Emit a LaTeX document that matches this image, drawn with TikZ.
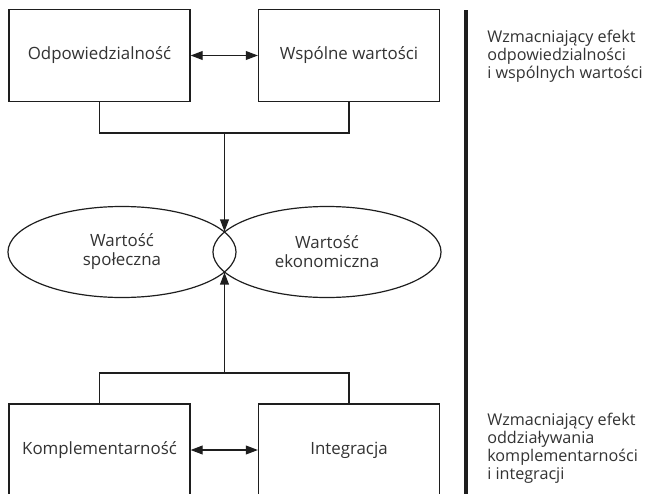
\documentclass[tikz,border=0pt]{standalone}
\usepackage{fontspec}
\setmainfont{Open Sans}
\usepackage{tikz}
\usepackage{xcolor}
\usetikzlibrary{arrows.meta,shapes.geometric}
\definecolor{linegray}{HTML}{1E1E1E}
\definecolor{textgray}{HTML}{333333}
\tikzset{
  box/.style={draw=linegray,line width=0.85pt,minimum width=4.525cm,minimum height=2.3cm,inner sep=0pt,text=textgray,font=\fontsize{12}{13.5}\selectfont},
  oval/.style={ellipse,draw=linegray,line width=0.85pt,minimum width=5.7cm,minimum height=2.275cm,inner sep=0pt,align=center,text=textgray,font=\fontsize{12}{13.5}\selectfont},
  note/.style={anchor=north west,align=left,inner sep=0pt,text=textgray,font=\fontsize{11.5}{12.8}\selectfont},
  tip/.style={-{Triangle[length=0.3cm,width=0.22cm]}},
  dtip/.style={{Triangle[length=0.3cm,width=0.22cm]}-{Triangle[length=0.3cm,width=0.22cm]}}
}

\begin{document}
\begin{tikzpicture}[x=0.025cm,y=-0.025cm]
\clip (0,0) rectangle (653,494);
\fill[white] (0,0) rectangle (653,494);
\node[box] (odp) at (99.5,55.5) {Odpowiedzialność};
\node[box] (wsp) at (349,55.5) {Wspólne wartości};
\node[oval] (spo) at (122,252) {Wartość\\społeczna};
\node[oval] (eko) at (327,252) {Wartość\\ekonomiczna};
\node[box] (kom) at (99.5,450) {Komplementarność};
\node[box] (int) at (349,450) {Integracja};
\coordinate (gora) at (224.5,133);
\coordinate (dol) at (224.5,373);
\coordinate (stykG) at (224.5,231.5);
\coordinate (stykD) at (224.5,272.5);
\coordinate (kreskaG) at (466,10);
\coordinate (kreskaD) at (466,500);
\draw[dtip,linegray,line width=0.85pt] (odp.east) -- (wsp.west);
\draw[dtip,linegray,line width=0.85pt] (kom.east) -- (int.west);
\draw[linegray,line width=0.85pt] (odp.south) |- (gora) -| (wsp.south);
\draw[linegray,line width=0.85pt] (kom.north) |- (dol) -| (int.north);
\draw[tip,linegray,line width=0.85pt] (gora) -- (stykG);
\draw[tip,linegray,line width=0.85pt] (dol) -- (stykD);
\draw[linegray,line width=2.2pt] (kreskaG) -- (kreskaD);
\node[note] (efekt1) at (487,30) {Wzmacniający efekt\\odpowiedzialności\\i wspólnych wartości};
\node[note] (efekt2) at (487,413) {Wzmacniający efekt\\oddziaływania\\komplementarności\\i integracji};
\end{tikzpicture}
\end{document}
